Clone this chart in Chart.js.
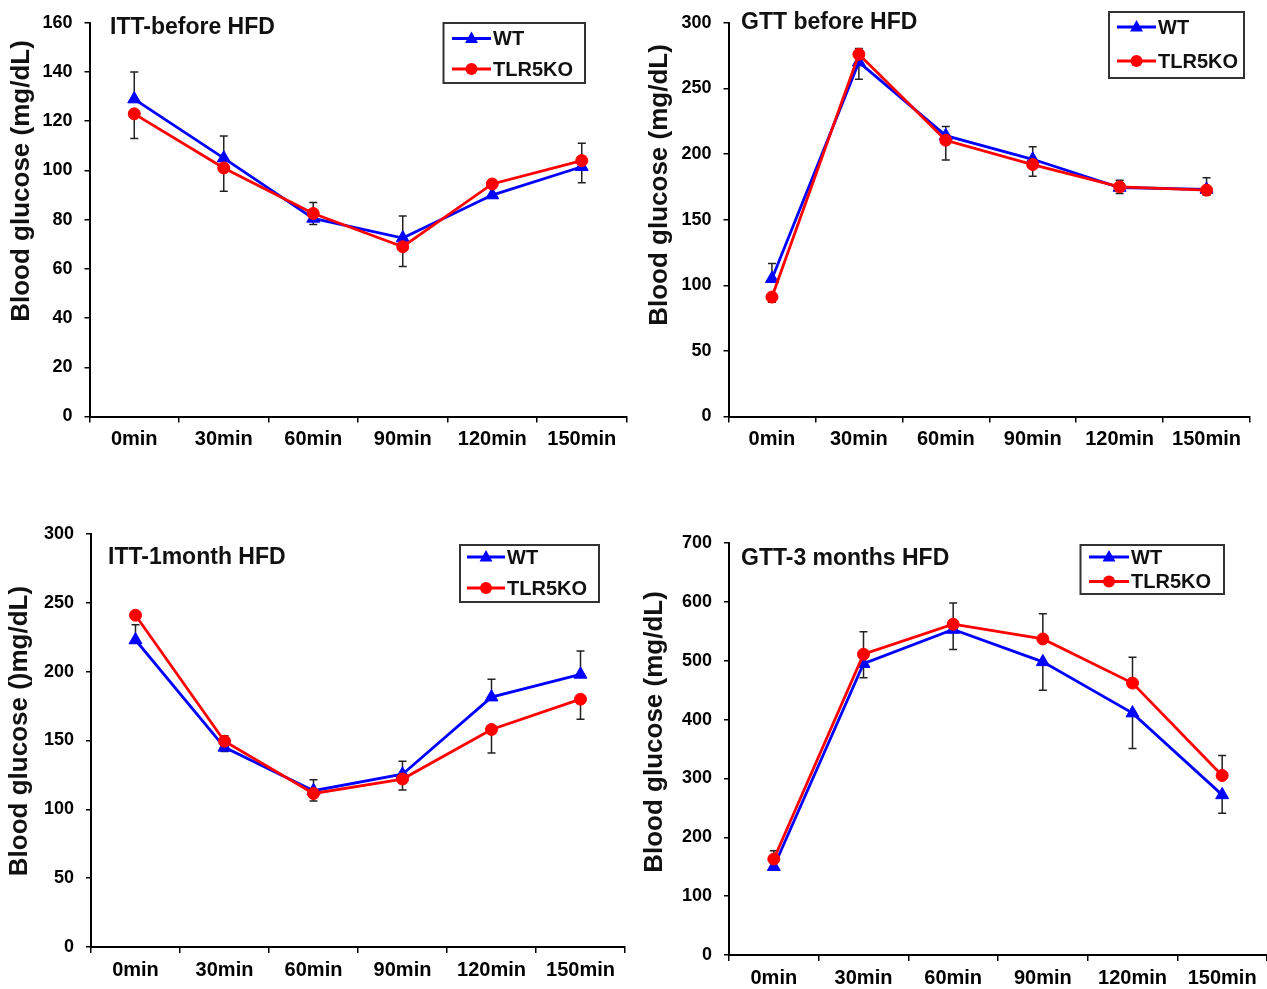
<!DOCTYPE html>
<html>
<head>
<meta charset="utf-8">
<script src="https://cdn.jsdelivr.net/npm/chart.js@4.4.1/dist/chart.umd.min.js"></script>
<style>
    html, body { margin: 0; padding: 0; background: #fff; }
    #pagina { position: relative; width: 1267px; height: 989px; overflow: hidden; }
    .panel { position: absolute; }
</style>
</head>
<body>
<div id="pagina">
    <div class="panel" style="left:0px;top:0px;width:635px;height:470px"><canvas id="chartITTantes"></canvas></div>
    <div class="panel" style="left:635px;top:0px;width:632px;height:470px"><canvas id="chartGTTantes"></canvas></div>
    <div class="panel" style="left:0px;top:490px;width:635px;height:499px"><canvas id="chartITT1mes"></canvas></div>
    <div class="panel" style="left:635px;top:490px;width:650px;height:499px"><canvas id="chartGTT3meses"></canvas></div>
</div>
<script>
// Categorías del eje x
const tiempos = ['0min', '30min', '60min', '90min', '120min', '150min'];
const series = ['WT', 'TLR5KO'];

// ITT antes de HFD
const ittAntesWT = [129, 105, 80.5, 72.5, 90, 101.5];
const ittAntesWTmas = [11, 9, 0, 9, 0, 0];
const ittAntesWTmenos = [0, 0, 2.5, 0, 0, 6.5];
const ittAntesKO = [123, 101, 82.5, 69, 94.5, 104];
const ittAntesKOmas = [0, 0, 4.5, 0, 0, 7];
const ittAntesKOmenos = [10, 9.5, 0, 8, 0, 0];

// GTT antes de HFD
const gttAntesWT = [105, 270, 214, 196, 174.5, 173];
const gttAntesWTmas = [11.5, 0, 7, 9.5, 0, 9];
const gttAntesWTmenos = [0, 13, 0, 0, 4.5, 0];
const gttAntesKO = [91, 276, 210.5, 192, 175, 172.5];
const gttAntesKOmas = [0, 4.5, 0, 0, 5, 0];
const gttAntesKOmenos = [4, 0, 15, 9, 0, 4];

// ITT 1 mes de HFD
const itt1mesWT = [223, 145, 113.5, 125.5, 181.5, 198];
const itt1mesWTmas = [11, 0, 8, 9.5, 13, 17];
const itt1mesWTmenos = [0, 3, 0, 0, 0, 0];
const itt1mesKO = [241, 149.5, 111.5, 122, 158, 180];
const itt1mesKOmas = [0, 4, 0, 0, 0, 0];
const itt1mesKOmenos = [0, 0, 5.5, 8, 17, 14.5];

// GTT 3 meses de HFD
const gtt3mesesWT = [150, 495, 553, 498, 411, 272];
const gtt3mesesWTmas = [0, 0, 0, 0, 0, 0];
const gtt3mesesWTmenos = [0, 24, 34, 48, 60, 31];
const gtt3mesesKO = [163, 511, 562, 537, 462, 305];
const gtt3mesesKOmas = [14, 38, 36, 43, 44, 34];
const gtt3mesesKOmenos = [0, 0, 0, 0, 0, 0];

const fuente = '"Liberation Sans", Arial, sans-serif';

// Barras de error (solo el lado que se ve en la figura)
const barrasError = {
    id: 'barrasError',
    beforeDatasetsDraw(chart) {
        const ctx = chart.ctx;
        const y = chart.scales.y;
        ctx.save();
        ctx.strokeStyle = '#222';
        ctx.lineWidth = 1.5;
        chart.data.datasets.forEach((ds, i) => {
            chart.getDatasetMeta(i).data.forEach((pt, j) => {
                const v = ds.data[j];
                const extremos = [];
                if (ds.errMas[j] > 0) extremos.push(v + ds.errMas[j]);
                if (ds.errMenos[j] > 0) extremos.push(v - ds.errMenos[j]);
                extremos.forEach(e => {
                    const y0 = y.getPixelForValue(v);
                    const y1 = y.getPixelForValue(e);
                    ctx.beginPath();
                    ctx.moveTo(pt.x, y0);
                    ctx.lineTo(pt.x, y1);
                    ctx.moveTo(pt.x - 4, y1);
                    ctx.lineTo(pt.x + 4, y1);
                    ctx.stroke();
                });
            });
        });
        ctx.restore();
    }
};

// Título del panel, título del eje y y leyenda con recuadro
const decoracion = {
    id: 'decoracion',
    afterDraw(chart, args, o) {
        const ctx = chart.ctx;
        const dx = o.offX, dy = o.offY;
        ctx.save();
        ctx.fillStyle = '#111';
        ctx.font = 'bold 23px ' + fuente;
        ctx.textAlign = 'left';
        ctx.textBaseline = 'alphabetic';
        ctx.fillText(o.titulo, o.tituloX - dx, o.tituloY - dy);

        ctx.save();
        ctx.translate(o.ejeX - dx, o.ejeY - dy);
        ctx.rotate(-Math.PI / 2);
        ctx.font = 'bold 26px ' + fuente;
        ctx.textAlign = 'center';
        ctx.textBaseline = 'middle';
        ctx.fillText(o.ejeTexto, 0, 0);
        ctx.restore();

        const L = o.leyenda;
        ctx.strokeStyle = '#333';
        ctx.lineWidth = 2;
        ctx.strokeRect(L.x - dx, L.y - dy, L.w, L.h);
        chart.data.datasets.forEach((ds, i) => {
            const fy = L.filas[i] - dy;
            ctx.strokeStyle = ds.borderColor;
            ctx.fillStyle = ds.borderColor;
            ctx.lineWidth = 2.8;
            ctx.beginPath();
            ctx.moveTo(L.lx0 - dx, fy);
            ctx.lineTo(L.lx1 - dx, fy);
            ctx.stroke();
            const mx = (L.lx0 + L.lx1) / 2 - dx;
            ctx.beginPath();
            if (ds.pointStyle === 'triangle') {
                ctx.moveTo(mx, fy - 7);
                ctx.lineTo(mx + 6.5, fy + 4.5);
                ctx.lineTo(mx - 6.5, fy + 4.5);
                ctx.closePath();
            } else {
                ctx.arc(mx, fy, 6, 0, Math.PI * 2);
            }
            ctx.fill();
            ctx.fillStyle = '#111';
            ctx.font = 'bold 20px ' + fuente;
            ctx.textAlign = 'left';
            ctx.textBaseline = 'middle';
            ctx.fillText(ds.label, L.tx - dx, fy + 1);
        });
        ctx.restore();
    }
};

function generarGrafica(idCanvas, p, wt, wtMas, wtMenos, ko, koMas, koMenos) {
    const ctx = document.getElementById(idCanvas).getContext('2d');
    return new Chart(ctx, {
        type: 'line',
        data: {
            labels: tiempos,
            datasets: [{
                label: series[0],
                data: wt,
                errMas: wtMas,
                errMenos: wtMenos,
                borderColor: '#0000FF',
                backgroundColor: '#0000FF',
                borderWidth: 2.8,
                pointStyle: 'triangle',
                pointRadius: 7.5,
                pointBorderWidth: 1,
                tension: 0,
                order: 2,
                clip: false
            }, {
                label: series[1],
                data: ko,
                errMas: koMas,
                errMenos: koMenos,
                borderColor: '#FF0000',
                backgroundColor: '#FF0000',
                borderWidth: 2.8,
                pointStyle: 'circle',
                pointRadius: 6,
                pointBorderWidth: 1,
                tension: 0,
                order: 1,
                clip: false
            }]
        },
        options: {
            responsive: true,
            maintainAspectRatio: false,
            animation: false,
            layout: {
                padding: {
                    left: 0,
                    top: p.yArriba - p.offY,
                    right: p.offX + p.ancho - p.x1,
                    bottom: 0
                }
            },
            scales: {
                x: {
                    offset: true,
                    grid: { offset: true, drawOnChartArea: false, color: '#000', lineWidth: 1.5, tickLength: 6 },
                    border: { color: '#000', width: 2 },
                    ticks: { color: '#000', padding: 5, font: { family: fuente, size: 20, weight: 'bold' } },
                    afterFit: function (scale) { scale.height = p.offY + p.alto - p.yAbajo; }
                },
                y: {
                    min: 0,
                    max: p.yMax,
                    grid: { drawOnChartArea: false, color: '#000', lineWidth: 1.5, tickLength: 5 },
                    border: { color: '#000', width: 2 },
                    ticks: { stepSize: p.paso, color: '#000', padding: 12, font: { family: fuente, size: 18, weight: 'bold' } },
                    afterFit: function (scale) { scale.width = p.x0 - p.offX; }
                }
            },
            plugins: {
                legend: { display: false },
                tooltip: { enabled: false },
                decoracion: {
                    offX: p.offX, offY: p.offY,
                    titulo: p.titulo, tituloX: p.tituloX, tituloY: p.tituloY,
                    ejeTexto: p.ejeTexto, ejeX: p.ejeX, ejeY: p.ejeY,
                    leyenda: p.leyenda
                }
            }
        },
        plugins: [barrasError, decoracion]
    });
}

generarGrafica('chartITTantes', {
    offX: 0, offY: 0, ancho: 635, alto: 470,
    x0: 89.5, x1: 627.5, yArriba: 17.5, yAbajo: 416.5, yMax: 160, paso: 20,
    titulo: 'ITT-before HFD', tituloX: 110, tituloY: 34,
    ejeTexto: 'Blood glucose (mg/dL)', ejeX: 22, ejeY: 181,
    leyenda: { x: 443.5, y: 23, w: 141.5, h: 60, filas: [38.5, 69], lx0: 452, lx1: 491, tx: 493 }
}, ittAntesWT, ittAntesWTmas, ittAntesWTmenos, ittAntesKO, ittAntesKOmas, ittAntesKOmenos);

generarGrafica('chartGTTantes', {
    offX: 635, offY: 0, ancho: 632, alto: 470,
    x0: 728.5, x1: 1250, yArriba: 22, yAbajo: 416.5, yMax: 300, paso: 50,
    titulo: 'GTT before HFD', tituloX: 741, tituloY: 29,
    ejeTexto: 'Blood glucose (mg/dL)', ejeX: 660, ejeY: 185,
    leyenda: { x: 1109, y: 12, w: 135, h: 66, filas: [27, 61], lx0: 1117, lx1: 1156, tx: 1158 }
}, gttAntesWT, gttAntesWTmas, gttAntesWTmenos, gttAntesKO, gttAntesKOmas, gttAntesKOmenos);

generarGrafica('chartITT1mes', {
    offX: 0, offY: 490, ancho: 635, alto: 499,
    x0: 91, x1: 625, yArriba: 534, yAbajo: 947, yMax: 300, paso: 50,
    titulo: 'ITT-1month HFD', tituloX: 108, tituloY: 564,
    ejeTexto: 'Blood glucose ()mg/dL)', ejeX: 20, ejeY: 731,
    leyenda: { x: 460, y: 545, w: 139, h: 57, filas: [557, 588], lx0: 467, lx1: 505, tx: 507 }
}, itt1mesWT, itt1mesWTmas, itt1mesWTmenos, itt1mesKO, itt1mesKOmas, itt1mesKOmenos);

generarGrafica('chartGTT3meses', {
    offX: 635, offY: 490, ancho: 650, alto: 499,
    x0: 729, x1: 1267, yArriba: 543, yAbajo: 955, yMax: 700, paso: 100,
    titulo: 'GTT-3 months HFD', tituloX: 741, tituloY: 565,
    ejeTexto: 'Blood glucose (mg/dL)', ejeX: 655, ejeY: 732,
    leyenda: { x: 1080.5, y: 545, w: 143.5, h: 49, filas: [557, 581.5], lx0: 1089, lx1: 1129, tx: 1131 }
}, gtt3mesesWT, gtt3mesesWTmas, gtt3mesesWTmenos, gtt3mesesKO, gtt3mesesKOmas, gtt3mesesKOmenos);
</script>
</body>
</html>
